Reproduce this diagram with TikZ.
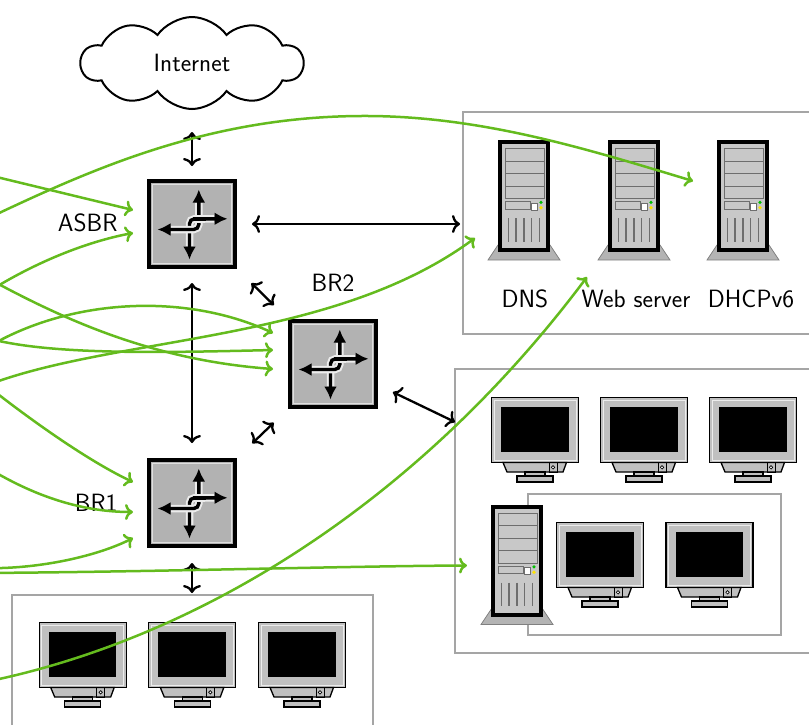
\documentclass[tikz,border=0pt]{standalone}
\usetikzlibrary{arrows.meta,shapes.symbols,calc}

\definecolor{linkgreen}{RGB}{100,187,30}
\definecolor{routergray}{RGB}{178,178,178}
\definecolor{bezelgray}{RGB}{192,192,192}
\definecolor{towergray}{RGB}{200,200,200}
\definecolor{basegray}{RGB}{180,180,180}
\definecolor{boxgray}{RGB}{165,165,165}
\definecolor{baygray}{RGB}{110,110,110}

\tikzset{
  every node/.style={font=\sffamily\fontsize{25}{29}\selectfont},
  grp/.style={draw=boxgray, line width=1.2pt, inner sep=0pt, outer sep=0pt},
  router/.style={draw=black, fill=routergray, line width=4pt, minimum size=86pt, inner sep=0pt, outer sep=0pt},
  devbox/.style={inner sep=0pt, outer sep=0pt},
  link/.style={line width=2.3pt, <->, >={Computer Modern Rightarrow[length=8pt,width=18pt]}},
  glink/.style={draw=linkgreen, line width=2.5pt, -{Computer Modern Rightarrow[length=8pt,width=16pt]}},
  rtip/.style={{Latex[length=13pt,width=13pt]}-{Latex[length=13pt,width=13pt]}},
  % router icon: four interlaced arrows
  routericon/.pic={
    \draw[white!85!gray, line width=7.5pt, rounded corners=5pt] (-2.5,22) -- (-2.5,-5.2) -- (22,-5.2);
    \draw[black, line width=3.4pt, rounded corners=5pt, rtip]
      (-2.5,35.5) -- (-2.5,-5.2) -- (35.5,-5.2);
    \draw[white!85!gray, line width=7.5pt, rounded corners=5pt] (-21,5.5) -- (6.8,5.5) -- (6.8,-21);
    \draw[black, line width=3.4pt, rounded corners=5pt, rtip]
      (-34.5,5.5) -- (6.8,5.5) -- (6.8,-34.5);
    \draw[white!85!gray, line width=7.5pt] (2,-5.2) -- (13,-5.2);
    \draw[black, line width=3.4pt] (1,-5.2) -- (14,-5.2);
    \draw[white!75!gray, line width=0.8pt] (-39.5,-39.5) rectangle (39.5,39.5);
  },
  % CRT monitor, origin at the top centre of the bezel
  monitor/.pic={
    \draw[line width=1.3pt, fill=bezelgray] (-43.5,0) rectangle (43.5,65);
    \draw[line width=0.7pt, draw=white!85!gray] (-41,2.6) rectangle (41,62.4);
    \fill[black] (-34,9.5) rectangle (33.5,54.5);
    \draw[line width=1.3pt, fill=bezelgray] (-32,65) -- (31.5,65) -- (28,74.5) -- (-28,74.5) -- cycle;
    \draw[line width=0.8pt] (14,65) rectangle (22,74.5);
    \draw[line width=0.7pt, fill=white] (18,69.8) circle (1.7);
    \draw[line width=1.3pt, fill=bezelgray] (-10,74.5) rectangle (10,78.5);
    \draw[line width=1.3pt, fill=bezelgray] (-18,78.5) rectangle (18,84.5);
  },
  % tower computer, origin at the top centre of the case
  tower/.pic={
    \draw[draw=gray, line width=0.8pt, fill=basegray] (-26,105) -- (26,105) -- (36,120) -- (-36,120) -- cycle;
    \draw[line width=4pt, fill=towergray] (-24,2) rectangle (24,110);
    \draw[draw=baygray, line width=1pt, fill=towergray] (-19,8.5) rectangle (20,58.5);
    \foreach \yy in {21,33.5,46} \draw[draw=baygray, line width=1pt] (-19,\yy) -- (20,\yy);
    \draw[draw=baygray, line width=1pt] (-19,61.7) rectangle (6,69);
    \draw[draw=baygray, line width=0.8pt, fill=white] (7.7,63.3) rectangle (13.7,70);
    \fill[green!75!black] (17,62.4) circle (1.8);
    \fill[yellow!85!orange] (17,67.7) circle (1.8);
    \foreach \xx in {-15.7,-8,0,7.7,15.3} \draw[draw=baygray, line width=1.2pt] (\xx,78) -- (\xx,101.7);
  }
}

\begin{document}
\begin{tikzpicture}[x=1pt, y=-1pt]
  \useasboundingbox (0,0) rectangle (809,724);
  \clip (0,0) rectangle (809,724);

  % groups of hosts
  \node[grp, minimum width=380pt, minimum height=222pt, anchor=north west] (srv) at (463,112) {};
  \node[grp, minimum width=380pt, minimum height=284pt, anchor=north west] (ws) at (455,369) {};
  \node[grp, minimum width=253pt, minimum height=141pt, anchor=north west] (sub) at (528,494) {};
  \node[grp, minimum width=361pt, minimum height=160pt, anchor=north west] (lan) at (12,595) {};

  % servers
  \node[devbox, minimum width=52pt, minimum height=120pt] (dns) at (524,200) {};
  \node[devbox, minimum width=52pt, minimum height=120pt] (web) at (634,200) {};
  \node[devbox, minimum width=52pt, minimum height=120pt] (dhcp) at (743,200) {};
  \pic at (dns.north) {tower};
  \pic at (web.north) {tower};
  \pic at (dhcp.north) {tower};
  \node (dnslbl) at (525,299) {DNS};
  \node (weblbl) at (636,299) {Web server};
  \node (dhcplbl) at (751,299) {DHCPv6};

  % workstations
  \node[devbox, minimum width=87pt, minimum height=85pt] (w1) at (535,440) {};
  \node[devbox, minimum width=87pt, minimum height=85pt] (w2) at (644,440) {};
  \node[devbox, minimum width=87pt, minimum height=85pt] (w3) at (753,440) {};
  \node[devbox, minimum width=87pt, minimum height=85pt] (w4) at (600,565) {};
  \node[devbox, minimum width=87pt, minimum height=85pt] (w5) at (709.5,565) {};
  \node[devbox, minimum width=52pt, minimum height=120pt] (wst) at (517,564.5) {};
  \foreach \m in {w1,w2,w3,w4,w5} \pic at (\m.north) {monitor};
  \pic at (wst.north) {tower};

  \node[devbox, minimum width=87pt, minimum height=85pt] (l1) at (82.7,665) {};
  \node[devbox, minimum width=87pt, minimum height=85pt] (l2) at (192.3,665) {};
  \node[devbox, minimum width=87pt, minimum height=85pt] (l3) at (302,665) {};
  \foreach \m in {l1,l2,l3} \pic at (\m.north) {monitor};

  % Internet cloud
  \node[cloud, draw, line width=2pt, fill=white, cloud puffs=10, cloud puff arc=110,
        cloud ignores aspect, minimum width=222pt, minimum height=92pt] (inet) at (192,63) {\raisebox{-4pt}{Internet}};

  % routers
  \node[router] (asbr) at (192,224) {};
  \node[router] (br2) at (333,364) {};
  \node[router] (br1) at (192,503) {};
  \pic at (asbr) {routericon};
  \pic at (br2) {routericon};
  \pic at (br1) {routericon};
  \node[anchor=east] (asbrlbl) at (121,223) {ASBR};
  \node (br2lbl) at (333,283) {BR2};
  \node[anchor=east] (br1lbl) at (121,503) {BR1};

  % physical links
  \draw[link, shorten <=22pt, shorten >=15pt] (inet.south) -- (asbr.north);
  \draw[link, shorten <=17pt, shorten >=3pt] (asbr.east) -- (asbr.east -| srv.west);
  \draw[link, shorten <=16pt, shorten >=17pt] (asbr.south) -- (br1.north);
  \draw[link, shorten <=23pt, shorten >=22.6pt] (asbr.south east) -- (br2.north west);
  \draw[link, shorten <=24pt, shorten >=22.6pt] (br1.north east) -- (br2.south west);
  \draw[link, shorten <=18.8pt] ($(br2.east)+(0,20)$) -- ($(ws.north west)+(0,53)$);
  \draw[link, shorten <=17pt, shorten >=2pt] (br1.south) -- (br1.south |- lan.north);

  % traffic flows entering from the left
  \coordinate (s1) at (-20,173);
  \coordinate (s2) at (-20,297);
  \coordinate (s3) at (-20,222);
  \coordinate (s4) at (-20,274);
  \coordinate (s5) at (-20,352);
  \coordinate (s6) at (-20,336);
  \coordinate (s7) at (-20,388);
  \coordinate (s8) at (-20,683);
  \coordinate (s9) at (-20,380);
  \coordinate (s10) at (-20,463);
  \coordinate (s11) at (-20,568);
  \coordinate (s12) at (-20,573);

  \draw[glink] (s1) -- ($(asbr)+(-59,-14)$);
  \draw[glink] (s2) .. controls (40,258) and (95,240) .. ($(asbr)+(-59,9)$);
  \draw[glink] (s3) .. controls (80,175) and (200,117) .. (360,116)
                    .. controls (480,115) and (590,150) .. ($(dhcp)+(-50,-19)$);
  \draw[glink] (s4) .. controls (60,318) and (150,360) .. ($(br2)+(-60,5)$);
  \draw[glink] (s5) .. controls (60,300) and (180,290) .. ($(br2)+(-60,-31)$);
  \draw[glink] (s6) .. controls (40,355) and (150,353) .. ($(br2)+(-60,-14)$);
  \draw[glink] (s7) .. controls (110,335) and (330,345) .. ($(dns)+(-49,38)$);
  \draw[glink] (s8) .. controls (200,640) and (420,500) .. ($(web)+(-47,77)$);
  \draw[glink] (s9) .. controls (30,420) and (90,462) .. ($(br1)+(-59,-21)$);
  \draw[glink] (s10) .. controls (30,495) and (80,512) .. ($(br1)+(-59,9)$);
  \draw[glink] (s11) .. controls (40,570) and (100,555) .. ($(br1)+(-59,35)$);
  \draw[glink] (s12) .. controls (150,572) and (350,566) .. ($(wst)+(-50,1)$);
\end{tikzpicture}
\end{document}
